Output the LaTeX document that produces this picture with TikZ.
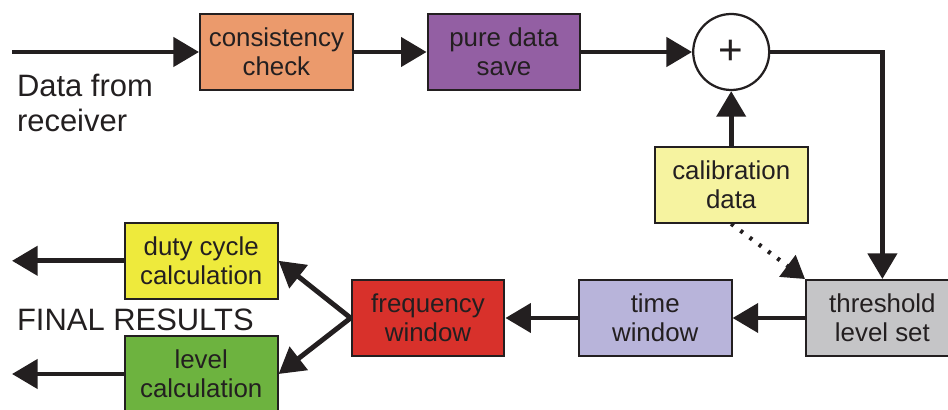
\documentclass[tikz,border=0pt]{standalone}
\usepackage{fontspec}
\setmainfont{Liberation Sans}
\usepackage{tikz}
\usetikzlibrary{positioning, arrows.meta, calc}
\definecolor{Ink}{HTML}{231F20}
\definecolor{Box_Orange}{HTML}{EB9A6C}
\definecolor{Box_Purple}{HTML}{935FA3}
\definecolor{Box_Cream}{HTML}{F6F3A0}
\definecolor{Box_Grey}{HTML}{C5C5C7}
\definecolor{Box_Lilac}{HTML}{B8B4DA}
\definecolor{Box_Red}{HTML}{D8312B}
\definecolor{Box_Yellow}{HTML}{EEEA3C}
\definecolor{Box_Green}{HTML}{6DB33F}

\begin{document}
\begin{tikzpicture}[every node/.style={text=Ink},
  block/.style={draw=Ink, fill=#1, line width=1.4pt, minimum height=1.9cm,
    minimum width=3.82cm, inner sep=0pt, align=center,
    font=\fontsize{18.4}{20.5}\selectfont},
  block/.default={Box_Grey},
  label/.style={inner sep=0pt, align=left, font=\fontsize{22}{25}\selectfont},
  arr/.style={-{Triangle[length=0.64cm, width=0.72cm]}, line width=3.5pt, Ink},
  dotarr/.style={-{Triangle[length=0.55cm, width=0.66cm]}, line width=3pt,
    dash pattern=on 2.2pt off 6pt, Ink}
]
  \useasboundingbox (0,0) rectangle (23.7,10.25);

  % Top row
  \node[block=Box_Orange] (cons) at (6.91,8.95) {consistency\\check};
  \node[block=Box_Purple] (pure) at (12.60,8.95) {pure data\\save};
  \node[draw=Ink, fill=white, circle, line width=1.6pt, minimum size=1.9cm,
    inner sep=0pt, font=\fontsize{30}{30}\selectfont] (sum) at (18.28,8.95) {+};
  \node[block=Box_Cream] (calib) at (18.28,5.63) {calibration\\data};

  % Bottom row
  \node[block=Box_Grey] (thresh) at (22.06,2.30) {threshold\\level set};
  \node[block=Box_Lilac] (time) at (16.38,2.30) {time\\window};
  \node[block=Box_Red] (freq) at (10.70,2.30) {frequency\\window};
  \node[block=Box_Yellow] (duty) at (5.03,3.73) {duty cycle\\calculation};
  \node[block=Box_Green] (level) at (5.03,0.90) {level\\calculation};

  % Labels
  \node[label, anchor=north west] (src) at (0.42,8.40) {Data from\\receiver};
  \node[label, anchor=west] (final) at (0.42,2.25) {FINAL RESULTS};

  % Free ends
  \coordinate (in) at (0.30,8.95);
  \coordinate (outA) at (0.30,3.73);
  \coordinate (outB) at (0.30,0.90);

  % Arrows
  \draw[arr] (in) -- (cons.west);
  \draw[arr] (cons) -- (pure);
  \draw[arr] (pure) -- (sum);
  \draw[arr] (calib) -- (sum);
  \draw[arr] (sum.east) -| (thresh.north);
  \draw[dotarr] (calib.south) -- (thresh.north west);
  \draw[arr] (thresh) -- (time);
  \draw[arr] (time) -- (freq);
  \draw[arr] (freq.west) -- (duty.east);
  \draw[arr] (freq.west) -- (level.east);
  \draw[arr] (duty.west) -- (outA);
  \draw[arr] (level.west) -- (outB);
\end{tikzpicture}
\end{document}
